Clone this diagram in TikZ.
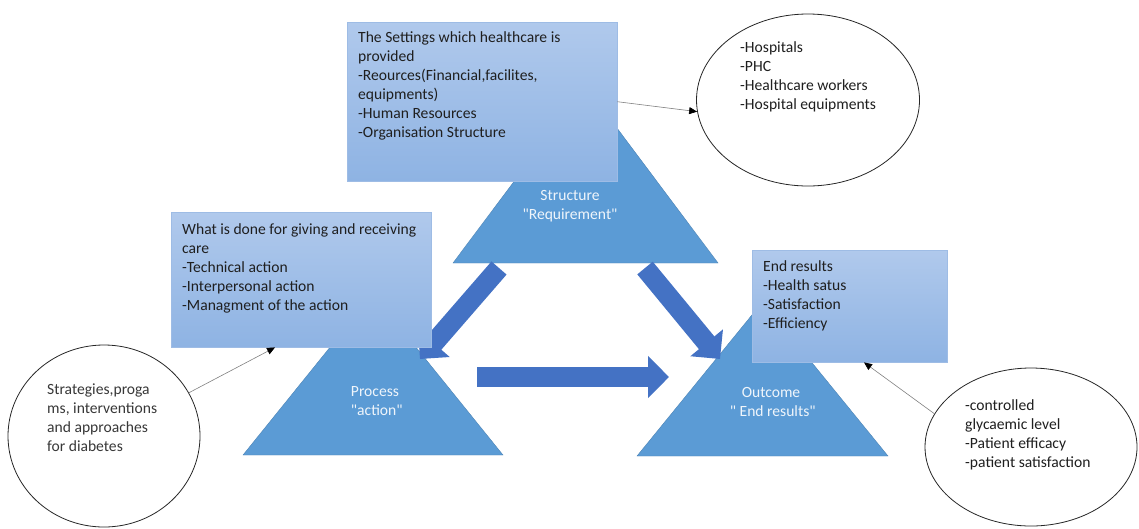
\documentclass[tikz,border=0pt]{standalone}
\usepackage{fontspec}
\setmainfont{Carlito}
\usetikzlibrary{arrows.meta,shapes.geometric}
\definecolor{trifill}{RGB}{91,155,213}
\definecolor{arrfill}{RGB}{68,114,196}
\definecolor{boxtop}{RGB}{176,201,236}
\definecolor{boxbot}{RGB}{142,179,227}
\definecolor{boxline}{RGB}{158,188,229}
\newcommand{\qt}{\textquotedbl}
\tikzset{
  tri/.style={fill=trifill, draw=trifill!85!black, line width=0.4pt},
  bigarrow/.style={draw=arrfill, line width=20pt, -{Triangle[width=41pt,length=21pt]}},
  infobox/.style={draw=boxline, top color=boxtop, bottom color=boxbot, anchor=north west, inner sep=0pt},
  boxtext/.style={anchor=north west, align=left, inner sep=0pt, text=black!88},
  trilabel/.style={align=center, inner sep=0pt, text=white!90!trifill},
  bubble/.style={draw=black!85, line width=0.8pt, ellipse, fill=white, inner sep=0pt},
  pointer/.style={draw=black!50, line width=0.6pt, -{Triangle[width=7pt,length=8pt,color=black]}},
}
\begin{document}
\begin{tikzpicture}[x=1pt,y=-1pt,font=\fontsize{15.6}{19}\selectfont]
\useasboundingbox (0,0) rectangle (1139,528);
% the three triangles
\path (453,263) coordinate (strL) (585.5,86) coordinate (strT) (718,263) coordinate (strR);
\path (243,455) coordinate (prcL) (373,294) coordinate (prcT) (503,455) coordinate (prcR);
\path (637,456) coordinate (outL) (762.5,302) coordinate (outT) (888,456) coordinate (outR);
\draw[tri] (strL) -- (strT) -- (strR) -- cycle;
\draw[tri] (prcL) -- (prcT) -- (prcR) -- cycle;
\draw[tri] (outL) -- (outT) -- (outR) -- cycle;
\node[trilabel] (strlab) at (570,206) {Structure\\ \qt Requirement\qt};
\node[trilabel] (prclab) at (375,401) {Process\\ \ \qt action\qt};
\node[trilabel] (outlab) at (771,402) {Outcome\\ \ \qt\ End results\qt};
% block arrows
\coordinate (s2p) at (499,268); \coordinate (p-in) at (420,359);
\coordinate (s2o) at (645,268); \coordinate (o-in) at (720,359);
\coordinate (p2o) at (477,377); \coordinate (o-side) at (669,377);
\draw[bigarrow] (s2p) -- (p-in);
\draw[bigarrow] (s2o) -- (o-in);
\draw[bigarrow] (p2o) -- (o-side);
% boxes
\node[infobox, minimum width=270pt, minimum height=159pt] (strbox) at (347,22) {};
\node[boxtext] (strtext) at ([xshift=11pt,yshift=-9pt]strbox.north west)
  {The Settings which healthcare is\\ provided\\ -Reources(Financial,facilites,\\ equipments)\\ -Human Resources\\ -Organisation Structure};
\node[infobox, minimum width=260pt, minimum height=135pt] (prcbox) at (171,212) {};
\node[boxtext] (prctext) at ([xshift=11pt,yshift=-11pt]prcbox.north west)
  {What is done for giving and receiving\\ care\\ -Technical action\\ -Interpersonal action\\ -Managment of the action};
\node[infobox, minimum width=195pt, minimum height=112pt] (outbox) at (752,250) {};
\node[boxtext] (outtext) at ([xshift=11pt,yshift=-10pt]outbox.north west)
  {End results\\ -Health satus\\ -Satisfaction\\ -Efficiency};
% ellipses
\node[bubble, minimum width=223pt, minimum height=172pt] (resell) at (808,100) {};
\node[boxtext] (restext) at (740,41) {-Hospitals\\ -PHC\\ -Healthcare workers\\ -Hospital equipments};
\node[bubble, minimum width=192pt, minimum height=182pt] (stratell) at (104,436) {};
\node[boxtext, text=black!78] (strattext) at (47,384) {Strategies,proga\\ ms, interventions\\ and approaches\\ for diabetes};
\node[bubble, minimum width=212pt, minimum height=158pt] (gluell) at (1031,447) {};
\node[boxtext] (glutext) at (965,399) {-controlled\\ glycaemic level\\ -Patient efficacy\\ -patient satisfaction};
% pointers
\draw[pointer] (strbox.east) -- (resell.186);
\draw[pointer] (stratell.27) -- ([xshift=104pt]prcbox.south west);
\draw[pointer] (gluell.161) -- ([xshift=112pt]outbox.south west);
\end{tikzpicture}
\end{document}
